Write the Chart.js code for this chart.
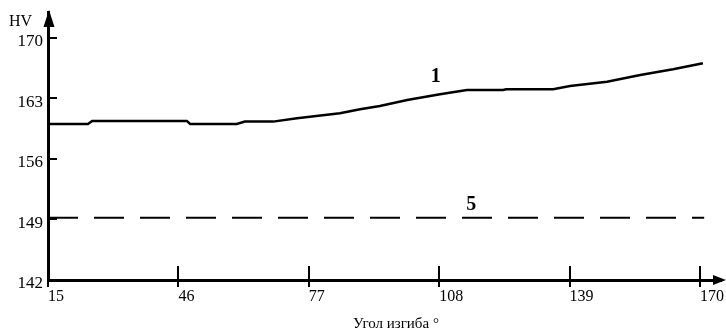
<!DOCTYPE html>
<html>
<head>
<meta charset="utf-8">
<script src="https://cdn.jsdelivr.net/npm/chart.js@4/dist/chart.umd.min.js"></script>
<style>
html,body{margin:0;padding:0;background:#fff;}
#wrap{width:726px;height:329px;position:relative;}
</style>
</head>
<body>
<div id="wrap"><canvas id="c" width="726" height="329"></canvas></div>
<script>
// Data
const angles1 = [15, 24.5, 25.5, 48.0, 48.8, 59.9, 61.8, 68.5, 74.2, 84.4, 89.2, 93.9, 100.4, 108.2, 114.6, 123.2, 123.9, 135.1, 139.1, 147.9, 155.8, 163.6, 170.7];
const hv1 =    [160.05, 160.05, 160.4, 160.4, 160.05, 160.05, 160.32, 160.32, 160.71, 161.29, 161.75, 162.13, 162.83, 163.49, 163.98, 163.98, 164.06, 164.06, 164.45, 164.94, 165.72, 166.38, 167.07];
const angles5 = [15, 171];
const hv5 =    [149.2, 149.2];
const xTicks = [15, 46, 77, 108, 139, 170];
const yTicks = [142, 149, 156, 163, 170];
const seriesLabels = [{text: '1', x: 107.2, y: 164.9}, {text: '5', x: 115.6, y: 150.1}];
const yTitle = 'HV';
const xTitle = 'Угол изгиба °';

const FONT = '"Liberation Serif", "Times New Roman", serif';

const decor = {
  id: 'decor',
  afterDraw(chart) {
    const ctx = chart.ctx;
    const xs = chart.scales.x, ys = chart.scales.y;
    const ca = chart.chartArea;
    ctx.save();
    ctx.strokeStyle = '#000';
    ctx.fillStyle = '#000';
    ctx.lineWidth = 2;
    // y ticks (inside)
    ys.ticks.forEach(t => {
      const py = Math.round(ys.getPixelForValue(t.value));
      ctx.beginPath(); ctx.moveTo(ca.left - 1, py); ctx.lineTo(ca.left + 9, py); ctx.stroke();
    });
    // x ticks (crossing)
    xs.ticks.forEach(t => {
      const px = Math.round(xs.getPixelForValue(t.value));
      ctx.beginPath(); ctx.moveTo(px, ca.bottom - 14); ctx.lineTo(px, ca.bottom + 7); ctx.stroke();
    });
    // arrows
    const ax = ca.left + 1;
    ctx.beginPath(); ctx.moveTo(ax, ca.top - 2); ctx.lineTo(ax - 5.5, ca.top + 15); ctx.lineTo(ax + 5.5, ca.top + 15); ctx.closePath(); ctx.fill();
    const ay = ca.bottom;
    ctx.beginPath(); ctx.moveTo(ca.right + 5, ay); ctx.lineTo(ca.right - 8, ay - 5); ctx.lineTo(ca.right - 8, ay + 5); ctx.closePath(); ctx.fill();
    // texts
    ctx.font = '16px ' + FONT;
    ctx.textAlign = 'left'; ctx.textBaseline = 'alphabetic';
    ctx.fillText(yTitle, 9, 26);
    ctx.font = '15px ' + FONT;
    ctx.textAlign = 'center';
    ctx.fillText(xTitle, 396, 328);
    ctx.font = 'bold 20px ' + FONT;
    seriesLabels.forEach(l => {
      ctx.fillText(l.text, xs.getPixelForValue(l.x), ys.getPixelForValue(l.y));
    });
    ctx.restore();
  }
};

new Chart(document.getElementById('c'), {
  type: 'line',
  data: {
    datasets: [
      { data: angles1.map((a, i) => ({x: a, y: hv1[i]})), borderColor: '#000', borderWidth: 2.5, pointRadius: 0, tension: 0, fill: false },
      { data: angles5.map((a, i) => ({x: a, y: hv5[i]})), borderColor: '#000', borderWidth: 2, borderDash: [30, 16], pointRadius: 0, tension: 0, fill: false }
    ]
  },
  options: {
    responsive: false,
    animation: false,
    layout: { padding: { top: 12, right: 5, left: 0, bottom: 0 } },
    plugins: { legend: { display: false }, tooltip: { enabled: false } },
    scales: {
      x: {
        type: 'linear', min: 15, max: 175,
        afterBuildTicks: s => { s.ticks = xTicks.map(v => ({value: v})); },
        afterFit: s => { s.height = 49; s.paddingRight = 0; s.paddingLeft = 0; },
        grid: { display: false, drawTicks: false },
        border: { display: true, color: '#000', width: 3 },
        ticks: { color: '#000', font: { family: FONT, size: 16 }, padding: 7, align: 'start', maxRotation: 0, autoSkip: false }
      },
      y: {
        type: 'linear', min: 142, max: 173,
        afterBuildTicks: s => { s.ticks = yTicks.map(v => ({value: v})); },
        afterFit: s => { s.width = 48; s.paddingTop = 0; s.paddingBottom = 0; },
        grid: { display: false, drawTicks: false },
        border: { display: true, color: '#000', width: 3 },
        ticks: { color: '#000', font: { family: FONT, size: 17 }, padding: 5, labelOffset: 4 }
      }
    }
  },
  plugins: [decor]
});
</script>
</body>
</html>
